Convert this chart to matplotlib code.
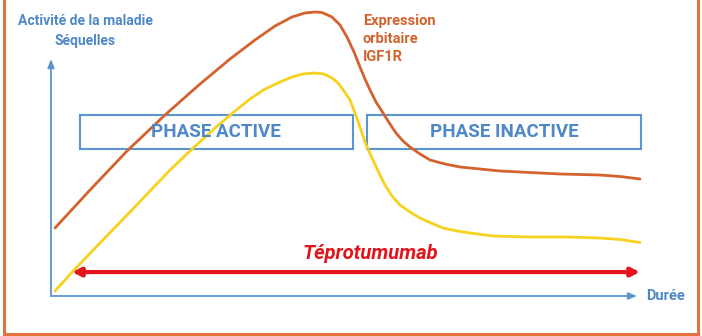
import matplotlib.pyplot as plt
from matplotlib.patches import Rectangle

t_expr = [0.68, 6.66, 12.97, 19.45, 25.43, 30.55, 34.81, 38.23, 41.13, 43.34, 45.05, 46.25,
          47.95, 49.32, 50.51, 51.71, 52.73, 53.58, 54.44, 55.46, 56.66, 57.85, 58.87, 60.07,
          61.26, 62.97, 64.68, 67.24, 69.80, 73.21, 76.62, 81.74, 86.86, 93.69, 97.10, 100.51]
y_expr = [28.69, 44.73, 61.18, 76.37, 89.45, 100.0, 108.02, 113.92, 117.72, 119.41, 119.83,
          119.62, 117.72, 114.35, 109.28, 102.95, 96.62, 91.56, 86.92, 81.86, 77.22, 72.57,
          68.78, 65.40, 62.87, 59.92, 57.38, 55.70, 54.43, 53.59, 52.74, 52.11, 51.48, 51.05,
          50.42, 49.37]

t_seq = [0.68, 4.10, 8.36, 13.48, 16.89, 20.31, 23.72, 27.99, 31.40, 33.96, 36.52, 39.08,
         41.13, 43.00, 45.05, 46.59, 47.95, 48.98, 50.0, 51.02, 51.88, 52.73, 53.41, 53.92,
         54.95, 55.97, 57.00, 58.19, 59.56, 61.26, 62.97, 64.85, 66.89, 69.28, 71.50, 75.43,
         81.74, 88.05, 93.69, 97.10, 100.51]
y_seq = [2.11, 11.39, 22.36, 35.44, 44.30, 53.16, 61.18, 70.89, 78.06, 83.12, 87.34, 90.30,
         92.41, 93.67, 94.09, 93.67, 91.98, 89.87, 86.50, 82.70, 77.22, 71.31, 66.24, 62.87,
         57.38, 51.90, 46.84, 42.19, 38.40, 35.44, 32.91, 30.80, 28.69, 27.43, 26.58, 25.32,
         24.89, 24.89, 24.47, 23.84, 22.57]

phases = ["PHASE ACTIVE", "PHASE INACTIVE"]
phase_debut = [4.9, 53.9]
phase_fin = [51.5, 100.7]
traitement = "Téprotumumab"
traitement_debut, traitement_fin = 3.6, 100.5

BLEU = "#5b95d0"
BLEU_TXT = "#4f88c6"
ORANGE = "#d4622e"
JAUNE = "#f6d21e"
ROUGE = "#e3141b"

plt.rcParams["font.family"] = ["Roboto", "DejaVu Sans"]

fig = plt.figure(figsize=(7.02, 3.36), dpi=100)
ax = fig.add_axes([51 / 702, 40 / 336, 586 / 702, 237 / 336])
ax.set_xlim(0, 100)
ax.set_ylim(0, 100)
ax.axis("off")

# axes fléchés
fleche = dict(arrowstyle="-|>,head_length=0.5,head_width=0.2",
              color=BLEU, lw=1.3, shrinkA=0, shrinkB=0)
ax.annotate("", xy=(0, 100), xytext=(0, 0), annotation_clip=False, arrowprops=fleche)
ax.annotate("", xy=(100, 0), xytext=(0, 0), annotation_clip=False, arrowprops=fleche)

# courbes
ax.plot(t_expr, y_expr, color=ORANGE, lw=2, clip_on=False,
        solid_capstyle="round", solid_joinstyle="round")
ax.plot(t_seq, y_seq, color=JAUNE, lw=2, clip_on=False,
        solid_capstyle="round", solid_joinstyle="round")

# cadres des phases
for nom, d, f in zip(phases, phase_debut, phase_fin):
    ax.add_patch(Rectangle((d, 62.0), f - d, 14.3, fill=False, edgecolor=BLEU,
                           lw=1.5, clip_on=False))
    ax.text((d + f) / 2, 69.0, nom, color=BLEU_TXT, fontsize=13.5, fontweight="bold",
            ha="center", va="center")

# traitement
ax.annotate("", xy=(traitement_fin, 10.1), xytext=(traitement_debut, 10.1),
            annotation_clip=False,
            arrowprops=dict(arrowstyle="<|-|>,head_length=0.5,head_width=0.25",
                            color=ROUGE, lw=3, shrinkA=0, shrinkB=0))
ax.text(54.5, 18.1, traitement, color=ROUGE, fontsize=14.5, fontweight="bold",
        style="italic", ha="center", va="center")

# légendes des axes
ax.text(5.8, 112.0, "Activité de la maladie\nSéquelles", color=BLEU_TXT, fontsize=10,
        fontweight="bold", ha="center", va="center", linespacing=1.55, clip_on=False)
ax.text(53.2, 108.4, "Expression\norbitaire\nIGF1R", color=ORANGE, fontsize=10.5,
        fontweight="bold", ha="left", va="center", linespacing=1.35, clip_on=False)
ax.text(101.5, 0, "Durée", color=BLEU_TXT, fontsize=10.5, fontweight="bold",
        ha="left", va="center", clip_on=False)

# liseré orange
bord = dict(color="#e2733f", lw=2.2, transform=fig.transFigure, clip_on=False)
fig.add_artist(plt.Line2D([3.5 / 702, 3.5 / 702], [0.5 / 336, 1], **bord))
fig.add_artist(plt.Line2D([698 / 702, 698 / 702], [0.5 / 336, 1], **bord))
fig.add_artist(plt.Line2D([3.5 / 702, 698 / 702], [2.5 / 336, 2.5 / 336], **bord))

fig.savefig("out.png", dpi=100)
